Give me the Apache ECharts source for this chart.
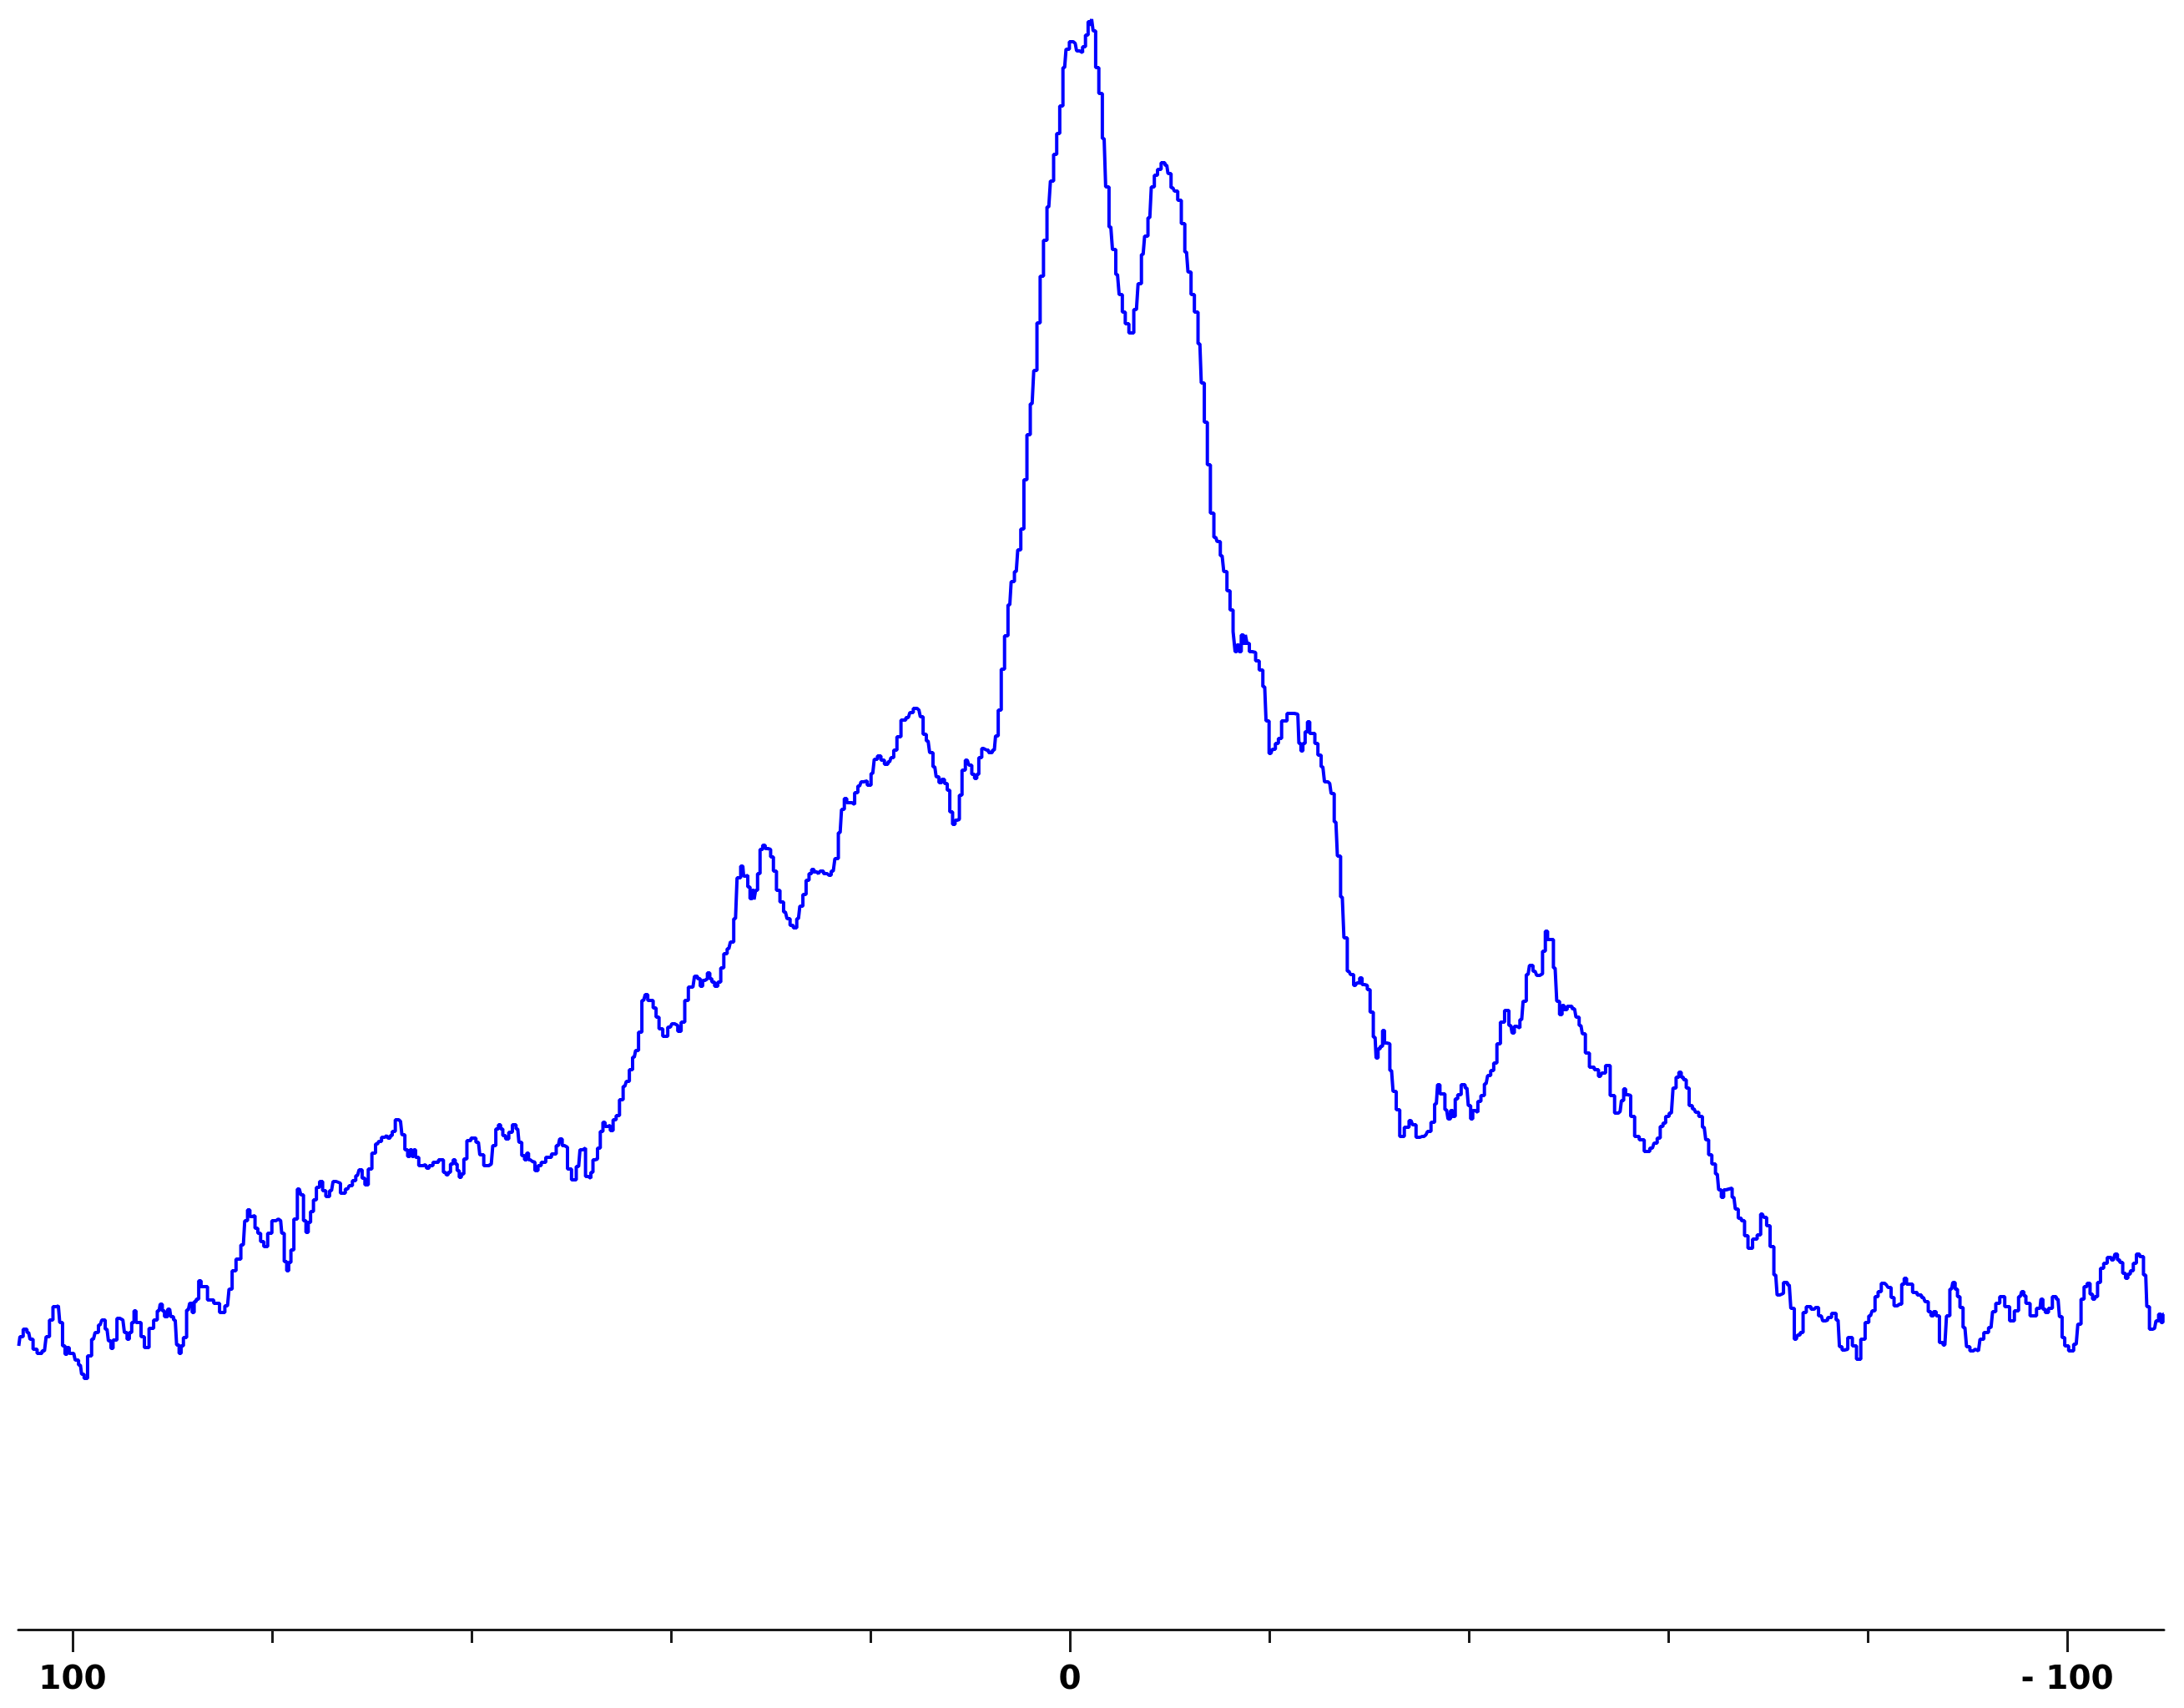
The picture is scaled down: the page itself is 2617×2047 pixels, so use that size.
<!DOCTYPE html>
<html>
<head>
<meta charset="utf-8">
<script src="https://cdn.jsdelivr.net/npm/echarts@6/dist/echarts.min.js"></script>
<style>html,body{margin:0;padding:0;background:#fff}#c{width:2617px;height:2047px}</style>
</head>
<body>
<div id="c"></div>
<script>
// Spectrum: [ppm, intensity] pairs, by region
const regionA = [[105.40,34.0],[105.16,35.1],[104.75,36.0],[104.41,35.6],[104.13,34.8],[103.80,33.6],[103.32,33.1],[102.82,33.4],[102.49,35.1],[102.15,37.1],[101.79,38.7],[101.43,38.8],[101.15,36.8],[100.87,34.0],[100.65,33.0],[100.45,33.8],[100.23,33.1],[99.89,33.1],[99.59,32.3],[99.22,31.7],[98.97,30.6],[98.72,30.1],[98.28,32.8],[97.91,34.8],[97.58,35.6],[97.24,36.5],[96.91,37.1],[96.55,36.0],[96.27,34.6],[96.04,33.7],[95.85,34.7],[95.26,37.3],[94.96,37.1],[94.65,35.6],[94.43,34.8],[94.20,35.6],[93.95,36.8],[93.73,38.2],[93.56,36.8],[93.28,36.8],[93.00,35.1],[92.61,33.8],[92.06,36.1],[91.69,37.1],[91.33,38.2],[91.11,39.0],[90.91,38.2],[90.66,37.5],[90.27,38.4],[90.05,37.5],[89.71,37.1],[89.43,34.1],[89.21,33.1],[89.04,34.0],[88.74,35.0],[88.40,38.3],[88.12,39.1],[87.90,38.0],[87.73,39.3],[87.48,39.6],[87.23,41.8],[87.01,41.1],[86.78,41.1],[86.17,39.5],[85.53,39.1],[85.00,38.0],[84.47,38.8],[84.16,40.8],[83.85,43.0],[83.38,44.4],[82.88,46.1],[82.60,49.0],[82.32,50.3],[82.13,49.5],[81.85,49.6],[81.57,48.1],[81.29,47.5],[81.01,46.5],[80.65,45.9],[80.23,47.5],[79.81,49.0],[79.39,49.2],[79.14,49.0],[78.92,47.5],[78.64,44.1],[78.42,43.0],[78.25,44.0],[77.97,45.5],[77.66,49.2],[77.27,52.8],[76.96,52.1],[76.74,49.0],[76.46,47.6],[76.29,48.8],[75.99,50.1],[75.71,51.5],[75.40,53.0],[75.07,53.7],[74.79,52.6],[74.43,51.9],[74.04,52.6],[73.73,53.7],[73.40,53.5],[72.89,52.3],[72.42,52.8],[72.11,53.2],[71.78,53.8],[71.44,54.4],[71.11,55.1],[70.83,54.1],[70.55,53.3],[70.16,55.2],[69.82,57.1],[69.43,58.2]];
const regionB = [[69.18,58.5],[68.87,59.0],[68.51,59.2],[68.23,58.9],[68.09,59.2],[67.81,59.7],[67.48,61.1],[67.12,60.9],[66.84,59.3],[66.53,57.5],[66.28,56.7],[66.08,57.5],[65.86,56.7],[65.72,57.5],[65.50,56.6],[65.08,55.6],[64.61,55.7],[64.38,55.3],[64.13,55.6],[63.60,56.0],[63.02,56.3],[62.62,54.8],[62.43,54.5],[62.26,54.8],[61.96,55.8],[61.73,56.3],[61.54,55.8],[61.34,55.0],[61.12,54.2],[60.92,54.6],[60.62,56.4],[60.31,58.6],[59.81,58.9],[59.31,58.4],[59.03,56.9],[58.52,55.6],[58.02,55.8],[57.72,58.0],[57.41,60.0],[57.19,60.5],[56.99,60.0],[56.74,59.2],[56.43,58.8],[56.10,59.6],[55.71,60.5],[55.37,60.0],[55.12,58.4],[54.81,56.8],[54.56,56.3],[54.37,57.1],[54.20,56.3],[54.01,56.1],[53.78,56.0],[53.50,55.0],[53.17,55.6],[52.86,56.0],[52.25,56.6],[51.72,57.0],[51.30,58.0],[51.02,58.8],[50.80,58.0],[50.55,57.8],[50.21,55.2],[49.74,53.9],[49.26,55.5],[48.99,57.5],[48.71,57.7],[48.43,54.3],[48.15,54.1],[47.92,54.8],[47.73,56.3],[47.51,56.4],[47.23,57.7],[46.95,59.7],[46.70,60.8],[46.53,60.3],[46.20,60.4],[45.97,59.8],[45.64,61.1],[45.36,61.6],[44.97,63.5],[44.63,65.1],[44.33,65.7],[44.02,67.1],[43.68,68.6],[43.41,69.4],[43.10,71.6],[42.74,75.4],[42.43,76.1],[42.23,75.4],[41.93,75.4],[41.65,74.5],[41.34,73.4],[41.06,72.0],[40.59,71.1],[40.06,72.2],[39.78,72.6],[39.47,72.4],[39.17,71.7],[38.80,72.8],[38.44,75.4],[38.08,77.0],[37.80,77.0],[37.49,78.3],[37.19,78.0],[36.94,77.1],[36.71,77.8],[36.49,78.0],[36.21,78.7],[36.01,78.0],[35.79,77.6],[35.46,77.1],[35.15,77.6],[34.87,79.3],[34.54,81.0],[34.20,81.6],[33.89,82.4],[33.53,85.2],[33.22,90.1]];
const regionC = [[32.80,91.5],[32.63,90.3],[32.41,90.4],[32.19,89.0],[31.96,87.6],[31.74,88.6],[31.60,87.5],[31.43,88.6],[31.21,90.6],[30.93,93.5],[30.68,94.0],[30.43,93.6],[30.15,93.5],[29.87,92.6],[29.59,90.9],[29.26,88.6],[28.89,87.2],[28.53,86.0],[28.20,85.2],[27.92,84.4],[27.56,84.1],[27.22,85.2],[26.94,86.7],[26.61,88.1],[26.30,89.8],[26.02,90.6],[25.77,91.1],[25.55,90.8],[25.21,90.6],[24.88,90.9],[24.54,90.6],[24.15,90.4],[23.73,90.9],[23.40,92.4],[23.04,95.5],[22.76,98.3],[22.48,99.6],[22.28,99.1],[22.00,99.1],[21.72,98.9],[21.45,100.3],[21.08,101.1],[20.81,101.6],[20.53,101.7],[20.11,101.2],[19.77,102.6],[19.47,104.3],[19.13,104.7],[18.77,104.2],[18.43,103.7],[18.07,104.0],[17.82,104.5],[17.51,105.4],[17.18,107.0],[16.70,109.0],[16.20,109.3],[15.90,109.9],[15.51,110.4],[15.14,110.2],[14.86,109.4],[14.58,107.3],[14.22,106.5],[13.91,105.1],[13.55,103.4],[13.27,102.2],[12.99,101.5],[12.72,101.9],[12.44,101.4],[12.16,100.6],[11.93,98.0],[11.60,96.5],[11.43,97.0],[11.21,97.1],[10.96,100.0],[10.68,103.0],[10.29,104.2],[9.98,103.6],[9.70,102.5],[9.42,102.0],[9.26,102.5],[9.01,104.5],[8.67,105.6],[8.34,105.4],[7.97,105.1],[7.58,105.4],[7.33,107.1],[7.05,110.2]];
const regionD = [[6.72,115.1],[6.39,119.1],[6.03,122.8],[5.75,125.6],[5.38,126.8],[5.08,129.4],[4.77,131.9],[4.46,137.8],[4.16,143.2],[3.79,146.9],[3.46,150.9],[3.15,156.6],[2.82,162.2],[2.48,166.5],[2.12,170.5],[1.79,173.6],[1.48,176.8],[1.17,179.3],[0.87,182.6],[0.53,187.2],[0.25,189.4],[-0.14,190.3],[-0.53,190.1],[-0.81,189.2],[-1.12,189.0],[-1.42,189.7],[-1.70,191.1],[-1.95,192.7],[-2.12,192.2],[-2.23,193.0],[-2.43,191.6],[-2.73,187.2],[-3.07,184.1],[-3.43,178.7],[-3.74,172.9],[-4.10,168.1],[-4.43,165.4],[-4.77,162.4],[-5.10,160.0],[-5.41,157.9],[-5.69,156.5],[-6.14,155.4],[-6.67,158.2],[-7.00,161.3],[-7.34,164.8],[-7.64,167.0],[-8.01,169.2],[-8.31,172.9],[-8.62,174.3],[-8.95,175.0],[-9.34,175.8],[-9.71,175.5],[-9.96,174.5],[-10.32,172.8],[-10.63,172.4],[-10.99,171.3],[-11.35,168.5],[-11.69,165.1],[-11.99,162.7],[-12.30,160.0],[-12.66,157.9],[-13.03,154.1],[-13.31,149.4],[-13.64,144.7],[-13.92,139.6],[-14.25,133.8],[-14.62,130.9],[-14.90,130.4],[-15.26,128.7],[-15.59,126.8],[-15.90,124.5],[-16.21,122.2],[-16.51,119.6]];
const regionE = [[-16.62,117.2],[-16.85,118.0],[-17.07,117.2],[-17.29,119.2],[-17.52,118.2],[-17.66,119.2],[-17.85,118.2],[-18.13,117.2],[-18.44,117.1],[-18.80,116.1],[-19.16,115.0],[-19.53,113.0],[-19.80,108.9],[-20.14,105.0],[-20.45,105.5],[-20.75,106.2],[-21.06,106.8],[-21.39,108.9],[-22.15,109.8],[-22.85,109.7],[-23.07,106.2],[-23.26,105.3],[-23.46,106.2],[-23.71,107.6],[-23.93,108.8],[-24.16,107.4],[-24.41,107.4],[-24.71,106.2],[-25.02,104.8],[-25.36,103.4],[-25.69,101.6],[-26.05,101.4],[-26.33,100.2],[-26.67,96.8],[-26.97,92.7],[-27.31,87.8],[-27.64,82.9],[-27.98,78.9],[-28.28,78.5],[-28.62,77.2],[-28.93,77.5],[-29.18,78.1],[-29.40,77.3],[-29.68,77.2],[-29.96,76.7],[-30.24,74.0],[-30.60,71.0],[-30.80,68.5],[-30.99,69.6],[-31.24,69.9],[-31.46,71.8],[-31.63,70.3],[-31.91,70.2],[-32.25,67.0],[-32.55,64.5],[-32.89,62.3],[-33.25,59.1],[-33.81,60.2],[-34.20,61.0],[-34.51,60.5],[-34.90,59.0],[-35.31,59.1],[-35.70,59.3],[-36.01,59.7],[-36.40,60.8],[-36.74,63.0],[-36.99,65.3],[-37.21,64.2],[-37.43,64.2],[-37.77,62.3],[-38.05,61.2],[-38.27,62.2],[-38.52,61.5],[-38.75,63.6],[-39.02,64.1],[-39.44,65.3],[-39.81,64.9],[-40.08,62.8],[-40.28,61.2],[-40.50,62.2],[-40.78,62.0],[-41.03,63.3],[-41.39,64.0],[-41.73,65.4],[-42.04,66.4],[-42.34,67.0],[-42.65,67.9],[-42.98,70.2],[-43.35,72.8],[-43.82,74.2],[-44.21,72.4],[-44.46,71.5],[-44.66,72.3],[-44.94,72.1],[-45.30,73.1],[-45.58,75.3],[-45.94,78.5],[-46.22,79.6],[-46.64,78.9],[-46.97,78.4],[-47.25,78.6],[-47.53,81.3],[-47.81,83.7],[-47.98,82.7],[-48.23,82.7]];
const regionF = [[-48.31,82.7],[-48.65,79.3],[-48.98,75.3],[-49.21,73.7],[-49.48,74.8],[-49.62,74.3],[-50.10,74.7],[-50.60,74.4],[-50.88,73.4],[-51.24,72.4],[-51.52,71.4],[-51.85,69.1],[-52.33,67.4],[-52.83,67.1],[-53.17,66.3],[-53.50,66.7],[-53.92,67.6],[-54.42,64.0],[-54.81,61.9],[-55.17,62.1],[-55.43,63.4],[-55.62,64.8],[-55.82,64.1],[-56.09,64.0],[-56.37,61.5],[-56.88,59.1],[-57.29,58.7],[-57.88,57.3],[-58.41,57.7],[-58.72,58.3],[-59.05,58.9],[-59.33,60.3],[-59.61,60.7],[-59.86,61.5],[-60.31,61.9],[-60.64,64.9],[-60.92,66.2],[-61.20,66.8],[-61.39,66.2],[-61.65,65.9],[-61.95,64.9],[-62.23,62.8],[-62.59,62.4],[-62.87,62.0],[-63.24,61.5],[-63.60,60.2],[-63.91,58.7],[-64.18,56.9],[-64.55,55.8],[-64.91,54.6],[-65.19,52.7],[-65.44,51.8],[-65.66,52.7],[-65.94,52.8],[-66.22,52.9],[-66.58,51.8],[-66.86,50.4],[-67.17,49.3],[-67.48,49.0],[-67.81,47.2],[-68.17,45.7],[-68.73,46.8],[-69.09,47.3],[-69.43,49.8],[-69.71,49.4],[-70.01,48.4],[-70.40,45.9],[-70.77,42.5],[-71.05,40.1],[-71.33,40.3],[-71.77,41.6],[-72.13,41.3],[-72.44,38.5],[-72.83,34.8],[-73.08,35.3],[-73.36,35.6],[-73.67,38.0],[-74.00,38.7],[-74.62,38.4]];
const regionG = [[-74.79,38.6],[-75.34,37.6],[-75.62,37.0],[-75.85,37.1],[-76.12,37.4],[-76.63,37.9],[-77.02,37.1],[-77.30,33.9],[-77.55,33.5],[-77.77,33.6],[-78.22,35.0],[-78.69,34.0],[-79.05,32.4],[-79.55,34.8],[-79.92,36.8],[-80.28,37.6],[-80.59,38.2],[-80.87,39.9],[-81.20,40.5],[-81.51,41.5],[-81.87,41.3],[-82.20,41.0],[-82.48,39.8],[-82.79,38.8],[-83.10,39.0],[-83.29,39.0],[-83.52,41.4],[-83.79,42.1],[-83.99,41.4],[-84.27,41.4],[-84.72,40.4],[-85.19,40.1],[-85.58,39.8],[-85.91,39.3],[-86.22,38.1],[-86.45,37.6],[-86.72,38.1],[-87.00,37.6],[-87.37,34.4],[-87.73,34.1],[-88.06,37.6],[-88.40,40.8],[-88.65,41.6],[-88.87,40.8],[-89.12,39.9],[-89.37,38.6],[-89.74,36.2],[-90.07,33.9],[-90.41,33.4],[-90.77,33.6],[-91.10,33.4],[-91.41,34.8],[-91.86,35.6],[-92.36,36.2],[-92.67,38.1],[-93.00,39.1],[-93.47,39.9],[-94.00,38.7],[-94.45,37.0],[-94.95,38.2],[-95.29,39.9],[-95.57,40.5],[-95.73,40.0],[-95.98,39.1],[-96.57,37.6],[-97.27,38.5],[-97.46,39.6],[-97.66,38.4],[-97.94,38.0],[-98.30,38.5],[-98.72,39.9],[-99.08,39.6],[-99.36,37.5],[-99.61,35.0],[-99.89,34.0],[-100.39,33.4],[-100.90,34.2],[-101.23,36.6],[-101.54,39.6],[-101.84,41.1],[-102.15,41.5],[-102.43,40.2],[-102.65,39.6],[-102.90,39.9],[-103.18,41.6],[-103.49,43.3],[-103.82,43.9],[-104.21,44.6],[-104.63,44.3],[-104.94,45.0],[-105.13,44.3],[-105.41,44.0],[-105.72,42.7],[-105.97,42.1],[-106.19,42.6],[-106.47,43.0],[-106.78,43.9],[-107.09,45.0],[-107.42,44.7],[-107.87,42.5],[-108.09,38.7],[-108.40,36.0],[-108.76,36.1],[-109.04,37.0],[-109.29,37.8],[-109.51,36.8],[-109.68,37.8]];

const minorTickValues = [80, 60, 40, 20, -20, -40, -60, -80];
const majorTickValues = [100, 0, -100];
const majorTickLabels = ['100', '0', '- 100'];
const xMin = -109.7, xMax = 105.44;
const yMin = 0, yMax = 195.3;

const spectrum = [].concat(regionA, regionB, regionC, regionD, regionE, regionF, regionG);

const chart = echarts.init(document.getElementById('c'), null, {renderer: 'canvas'});
const axisColor = '#1a1a1a';
chart.setOption({
  animation: false,
  backgroundColor: '#ffffff',
  grid: {left: 22, right: 24, top: 0, bottom: 94, containLabel: false},
  xAxis: [
    {
      type: 'value', min: xMin, max: xMax, inverse: true, position: 'bottom',
      axisLine: {show: true, lineStyle: {color: axisColor, width: 3}},
      axisTick: {show: true, customValues: minorTickValues, length: 16, lineStyle: {color: axisColor, width: 3}},
      axisLabel: {show: false},
      splitLine: {show: false}
    },
    {
      type: 'value', min: xMin, max: xMax, inverse: true, position: 'bottom',
      axisLine: {show: false},
      axisTick: {show: true, customValues: majorTickValues, length: 27, lineStyle: {color: axisColor, width: 3}},
      axisLabel: {
        show: true, customValues: majorTickValues, margin: 41,
        formatter: function (v) { const i = majorTickValues.indexOf(v); return i >= 0 ? majorTickLabels[i] : ''; },
        fontFamily: 'DejaVu Sans', fontWeight: 'bold', fontSize: 39, color: '#000'
      },
      splitLine: {show: false}
    }
  ],
  yAxis: {type: 'value', min: yMin, max: yMax, show: false},
  series: [{
    type: 'line', xAxisIndex: 0, data: spectrum, step: 'middle',
    showSymbol: false, symbol: 'none',
    lineStyle: {color: '#0000ff', width: 4},
    clip: true
  }]
});
</script>
</body>
</html>
